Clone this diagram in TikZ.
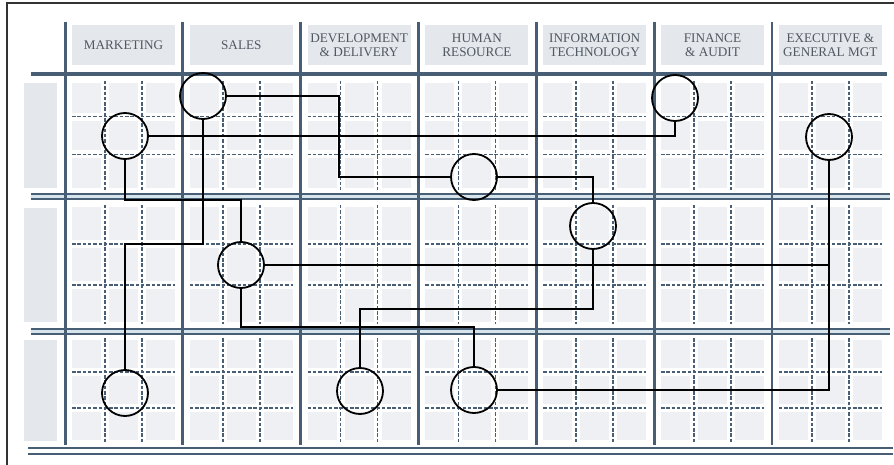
\documentclass[tikz,border=0pt]{standalone}
\usepackage{fontspec}
\setmainfont{Liberation Serif}
\usetikzlibrary{calc}

\definecolor{slate}{RGB}{72,94,116}
\definecolor{cellgray}{RGB}{238,240,243}
\definecolor{headgray}{RGB}{228,231,235}
\definecolor{headtext}{RGB}{80,88,98}
\definecolor{gapblue}{RGB}{214,228,238}

\begin{document}
\begin{tikzpicture}[x=1pt, y=-1pt,
    hub/.style={circle, draw=black, line width=1.8pt, minimum size=46pt, inner sep=0pt},
    link/.style={draw=black, line width=1.3pt},
    head/.style={text=headtext, font=\fontsize{13.2}{13.5}\selectfont, align=center},
    cellgrid/.style={slate, line width=1.5pt, dash pattern=on 3.5pt off 1.8pt}]
    \useasboundingbox (0,0) rectangle (894,465);

    \def \w {117.8};

    % frame
    \draw[line width=1.2pt, black!80] (894,3) -- (7,3) -- (7,465);

    % header boxes
    \foreach \c/\lab in {0/MARKETING, 1/SALES, 2/{DEVELOPMENT\\\& DELIVERY}, 3/{HUMAN\\RESOURCE},
                         4/{INFORMATION\\TECHNOLOGY}, 5/{FINANCE\\\& AUDIT}, 6/{EXECUTIVE \&\\GENERAL MGT}}
    {
        \pgfmathsetmacro\xc{65+\w*\c}
        \fill[headgray] (\xc+7,25) rectangle (\xc+110,65);
        \node[head] (hd\c) at (\xc+58.5,45) {\lab};
    }

    % row boxes
    \foreach \ya/\yb in {83/188, 208/322, 340/441}
        \fill[headgray] (24,\ya) rectangle (57,\yb);

    % cells
    \foreach \c in {0,...,6}
        \foreach \ya/\yb in {79/192, 203/326, 336/444}
        {
            \pgfmathsetmacro\xc{65+\w*\c}
            \pgfmathsetmacro\h{(\yb-\ya)/3}
            \foreach \i in {0,1,2}
                \foreach \j in {0,1,2}
                    \fill[cellgray] (\xc+7+37*\i, \ya+\h*\j+4) rectangle (\xc+36+37*\i, \ya+\h*\j+\h-4);
            \draw[cellgrid] (\xc+40,\ya+2) -- (\xc+40,\yb-2);
            \draw[cellgrid] (\xc+77,\ya+2) -- (\xc+77,\yb-2);
            \draw[cellgrid] (\xc+7,\ya+\h) -- (\xc+110,\ya+\h);
            \draw[cellgrid] (\xc+7,\ya+2*\h) -- (\xc+110,\ya+2*\h);
        }

    % rules
    \draw[slate, line width=3.5pt] (31,74) -- (887,74);
    \fill[gapblue] (31,195) rectangle (890,198);
    \fill[gapblue] (31,330) rectangle (890,333);
    \foreach \y in {194,199,329,334}
        \draw[slate, line width=2pt] (31,\y) -- (890,\y);
    \foreach \y in {448,454}
        \draw[slate, line width=1.3pt] (28,\y) -- (893,\y);
    \foreach \c in {0,...,5}
        \draw[slate, line width=3pt] (65+\w*\c,22) -- (65+\w*\c,445);
    \draw[slate, line width=1.3pt] (772,22) -- (772,445);

    % hubs
    \node[hub] (m1) at (125,136) {};
    \node[hub] (s1) at (203,96) {};
    \node[hub] (h1) at (474,177) {};
    \node[hub] (f1) at (675,98) {};
    \node[hub] (e1) at (829,137) {};
    \node[hub] (s2) at (241,265) {};
    \node[hub] (i2) at (593,226) {};
    \node[hub] (m3) at (125,393) {};
    \node[hub] (d3) at (360,391) {};
    \node[hub] (h3) at (474,390) {};

    % bends
    \coordinate (ka) at (339,177);
    \coordinate (kd) at (241,200);
    \coordinate (ke) at (125,244);
    \coordinate (kh) at (474,327);
    \coordinate (ki) at (360,309);

    % links
    \draw[link] (s1.east) -| (ka) -- (h1.west);
    \draw[link, line width=2.4pt] (339,96) -- (ka);
    \draw[link] (h1.east) -| (i2.north);
    \draw[link] (m1.east) -| (f1.south);
    \draw[link, line width=2.4pt] (m1.south) |- (kd) -- (s2.north);
    \draw[link] (s1.south) |- (ke) -- (m3.north);
    \draw[link] (s2.east) -- (s2.east -| e1.south);
    \draw[link] (h3.east) -| (e1.south);
    \draw[link] (s2.south) |- (kh) -- (h3.north);
    \draw[link] (i2.south) |- (ki) -- (d3.north);

\end{tikzpicture}
\end{document}
